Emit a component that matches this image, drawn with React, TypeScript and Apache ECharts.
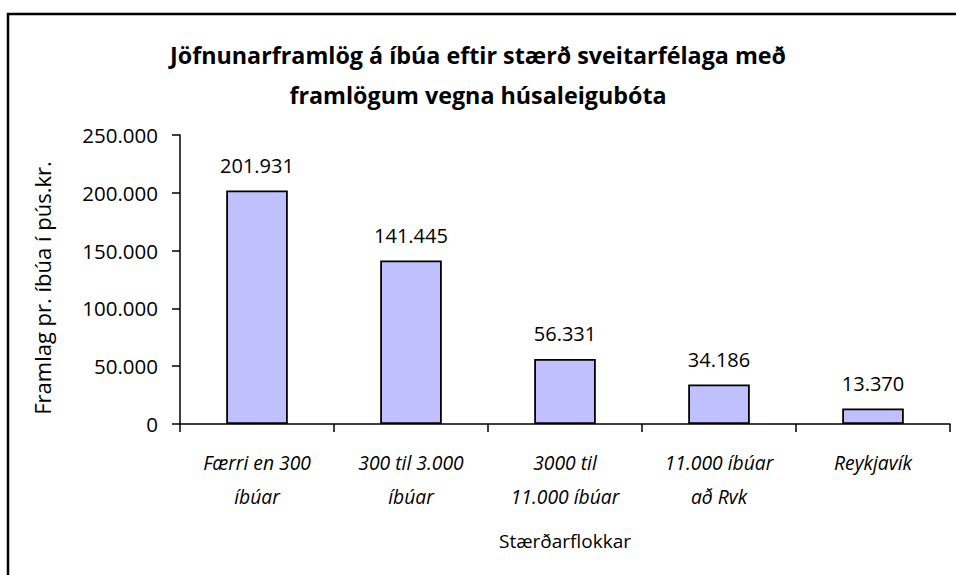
import React, { useEffect, useRef } from "react";
import * as echarts from "echarts";

const titleLines = ["Jöfnunarframlög á íbúa eftir stærð sveitarfélaga með", "framlögum vegna húsaleigubóta"];
const categories = ["Færri en 300\níbúar", "300 til 3.000\níbúar", "3000 til\n11.000 íbúar", "11.000 íbúar\nað Rvk", "Reykjavík"];
const values = [201931, 141445, 56331, 34186, 13370];
const yAxisName = "Framlag pr. íbúa í pús.kr.";
const xAxisName = "Stærðarflokkar";

const fmt = (v: number) => {
  const s = Math.round(v).toString();
  return s.replace(/\B(?=(\d{3})+(?!\d))/g, ".");
};

const FONT = "'Open Sans', sans-serif";

export default function App() {
  const ref = useRef<HTMLDivElement>(null);
  useEffect(() => {
    document.body.style.margin = "0";
    const chart = echarts.init(ref.current!, null, { renderer: "svg" });
    chart.setOption({
      animation: false,
      backgroundColor: "#ffffff",
      title: {
        text: titleLines.join("\n"),
        left: "center",
        top: 30,
        textStyle: {
          fontFamily: FONT,
          fontWeight: "bold",
          fontSize: 23.3,
          lineHeight: 40,
          color: "#000",
        },
      },
      graphic: [
        {
          type: "rect",
          shape: { x: 8, y: 14, width: 1000, height: 1000 },
          style: { fill: "none", stroke: "#000", lineWidth: 2.5 },
          silent: true,
        },
        {
          type: "text",
          x: 42,
          y: 288,
          rotation: Math.PI / 2,
          style: {
            text: yAxisName,
            fontFamily: FONT,
            fontSize: 22,
            fill: "#000",
            align: "center",
            verticalAlign: "middle",
          },
          silent: true,
        },
      ],
      grid: { left: 180, right: 6, top: 135, bottom: 151, containLabel: false },
      xAxis: {
        type: "category",
        data: categories,
        boundaryGap: true,
        axisLine: { lineStyle: { color: "#000", width: 1.5 } },
        axisTick: { show: true, length: 8, alignWithLabel: false, lineStyle: { color: "#000", width: 1.5 } },
        axisLabel: {
          interval: 0,
          margin: 21,
          fontFamily: FONT,
          fontStyle: "italic",
          fontSize: 19.3,
          lineHeight: 34,
          color: "#000",
        },
        name: xAxisName,
        nameLocation: "middle",
        nameGap: 107,
        nameTextStyle: { fontFamily: FONT, fontSize: 19, color: "#000" },
      },
      yAxis: {
        type: "value",
        min: 0,
        max: 250000,
        interval: 50000,
        splitLine: { show: false },
        axisLine: { show: true, lineStyle: { color: "#000", width: 1.5 } },
        axisTick: { show: true, length: 8, lineStyle: { color: "#000", width: 1.5 } },
        axisLabel: {
          formatter: (v: number) => fmt(v),
          margin: 22,
          fontFamily: FONT,
          fontSize: 20.5,
          color: "#000",
        },
      },
      series: [
        {
          type: "bar",
          data: values,
          barWidth: "40%",
          itemStyle: { color: "#C0C0FF", borderColor: "#000", borderWidth: 1.8 },
          label: {
            show: true,
            position: "top",
            distance: 15,
            formatter: (p: any) => fmt(p.value),
            fontFamily: FONT,
            fontSize: 20,
            color: "#000",
          },
        },
      ],
    });
    return () => chart.dispose();
  }, []);
  return <div ref={ref} style={{ width: 956, height: 575 }} />;
}
